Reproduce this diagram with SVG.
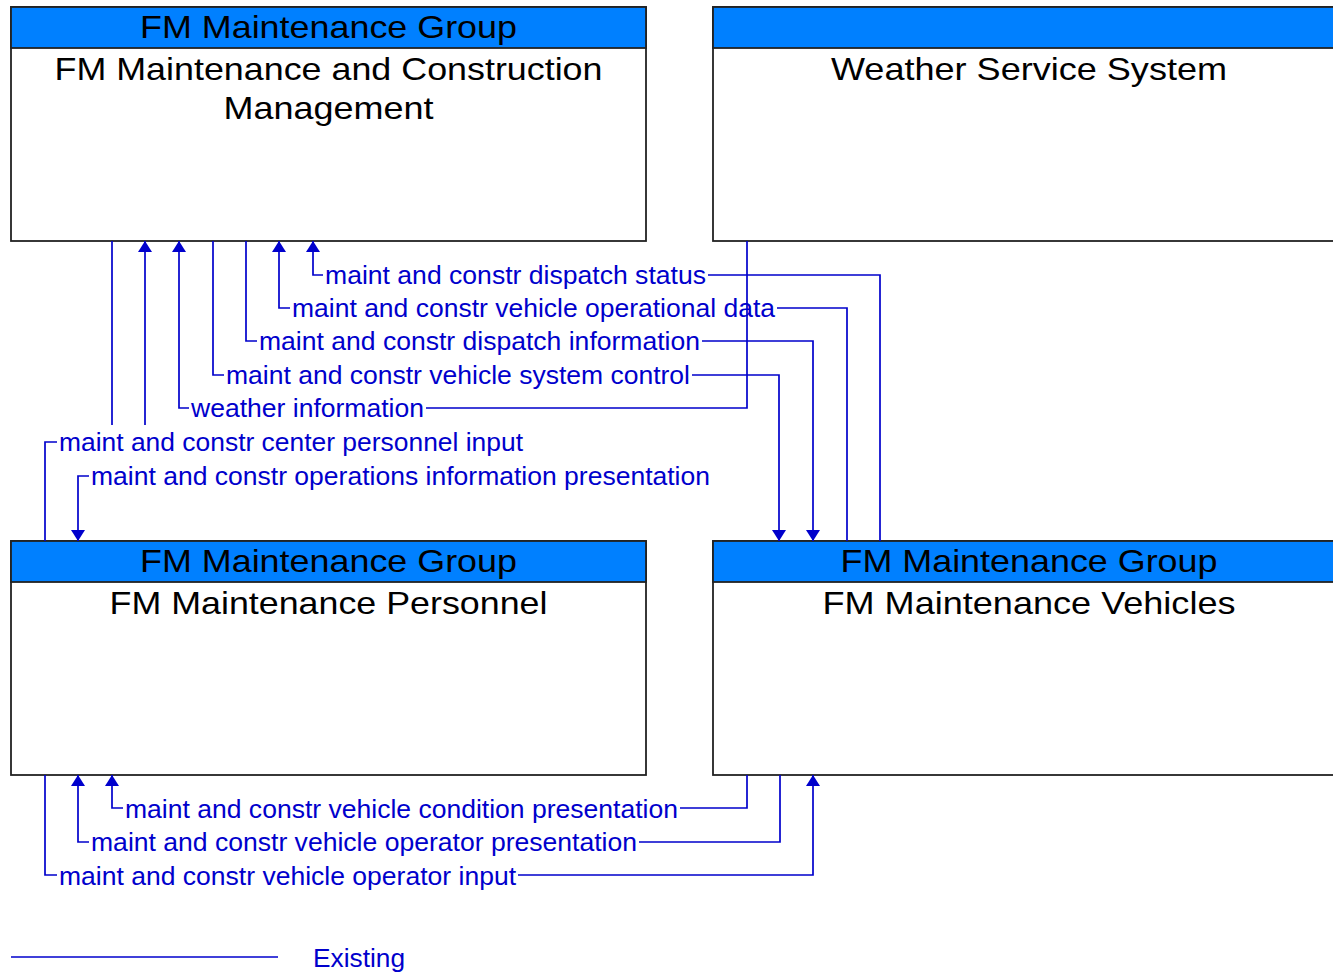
<svg xmlns="http://www.w3.org/2000/svg" width="1333" height="972" viewBox="0 0 1333 972">
<style>
.box{fill:#fff;stroke:#222;stroke-width:1.8}
.hdr{fill:#0080ff;stroke:#222;stroke-width:1.8}
.t{font-family:"Liberation Sans",Arial,sans-serif;font-size:32px;fill:#000;text-anchor:middle}
.c{fill:none;stroke:#0000cc;stroke-width:1.7}
.l{font-family:"Liberation Sans",Arial,sans-serif;font-size:26px;fill:#0000cc}
</style>
<defs>
<marker id="arr" viewBox="0 0 11 14" refX="11" refY="7" markerWidth="11" markerHeight="14" markerUnits="userSpaceOnUse" orient="auto">
<path d="M0,0 L11,7 L0,14 z" fill="#0000cc"/>
</marker>
</defs>
<rect width="1333" height="972" fill="#fff"/>
<g id="n-mcm">
<rect class="box" x="11" y="7" width="635" height="234"/>
<rect class="hdr" x="11" y="7" width="635" height="41"/>
<text class="t" x="328.5" y="38" textLength="377" lengthAdjust="spacingAndGlyphs">FM Maintenance Group</text>
<text class="t" x="328.5" y="80" textLength="548" lengthAdjust="spacingAndGlyphs">FM Maintenance and Construction</text>
<text class="t" x="328.5" y="119" textLength="210" lengthAdjust="spacingAndGlyphs">Management</text>
</g>
<g id="n-wss">
<rect class="box" x="713" y="7" width="632" height="234"/>
<rect class="hdr" x="713" y="7" width="632" height="41"/>
<text class="t" x="1029" y="80" textLength="396" lengthAdjust="spacingAndGlyphs">Weather Service System</text>
</g>
<g id="n-mp">
<rect class="box" x="11" y="541" width="635" height="234"/>
<rect class="hdr" x="11" y="541" width="635" height="41"/>
<text class="t" x="328.5" y="572" textLength="377" lengthAdjust="spacingAndGlyphs">FM Maintenance Group</text>
<text class="t" x="328.5" y="614" textLength="438" lengthAdjust="spacingAndGlyphs">FM Maintenance Personnel</text>
</g>
<g id="n-mv">
<rect class="box" x="713" y="541" width="632" height="234"/>
<rect class="hdr" x="713" y="541" width="632" height="41"/>
<text class="t" x="1029" y="572" textLength="377" lengthAdjust="spacingAndGlyphs">FM Maintenance Group</text>
<text class="t" x="1029" y="614" textLength="413" lengthAdjust="spacingAndGlyphs">FM Maintenance Vehicles</text>
</g>
<g id="connectors">
<path class="c" d="M880,541 V275 H708 M323,275 H313 V241" marker-end="url(#arr)"/>
<path class="c" d="M847,541 V308 H777 M290,308 H279 V241" marker-end="url(#arr)"/>
<path class="c" d="M246,241 V341 H257 M702,341 H813 V541" marker-end="url(#arr)"/>
<path class="c" d="M213,241 V375 H224 M692,375 H779 V541" marker-end="url(#arr)"/>
<path class="c" d="M747,241 V408 H426 M189,408 H179 V241" marker-end="url(#arr)"/>
<path class="c" d="M45,541 V442 H57 M145,425 V241" marker-end="url(#arr)"/>
<path class="c" d="M112,241 V425 M89,476 H78 V541" marker-end="url(#arr)"/>
<path class="c" d="M747,775 V808 H680 M123,808 H112 V775" marker-end="url(#arr)"/>
<path class="c" d="M780,775 V842 H639 M89,842 H78 V775" marker-end="url(#arr)"/>
<path class="c" d="M45,775 V875 H57 M518,875 H813 V775" marker-end="url(#arr)"/>
<text class="l" x="325" y="284" textLength="381" lengthAdjust="spacingAndGlyphs">maint and constr dispatch status</text>
<text class="l" x="292" y="317" textLength="483" lengthAdjust="spacingAndGlyphs">maint and constr vehicle operational data</text>
<text class="l" x="259" y="350" textLength="441" lengthAdjust="spacingAndGlyphs">maint and constr dispatch information</text>
<text class="l" x="226" y="384" textLength="464" lengthAdjust="spacingAndGlyphs">maint and constr vehicle system control</text>
<text class="l" x="191" y="417" textLength="233" lengthAdjust="spacingAndGlyphs">weather information</text>
<text class="l" x="59" y="451" textLength="464" lengthAdjust="spacingAndGlyphs">maint and constr center personnel input</text>
<text class="l" x="91" y="485" textLength="619" lengthAdjust="spacingAndGlyphs">maint and constr operations information presentation</text>
<text class="l" x="125" y="818" textLength="553" lengthAdjust="spacingAndGlyphs">maint and constr vehicle condition presentation</text>
<text class="l" x="91" y="851" textLength="546" lengthAdjust="spacingAndGlyphs">maint and constr vehicle operator presentation</text>
<text class="l" x="59" y="885" textLength="457" lengthAdjust="spacingAndGlyphs">maint and constr vehicle operator input</text>
</g>
<g id="legend">
<line class="c" x1="11" y1="957" x2="278" y2="957"/>
<text class="l" x="313" y="967" textLength="92" lengthAdjust="spacingAndGlyphs">Existing</text>
</g>
</svg>
